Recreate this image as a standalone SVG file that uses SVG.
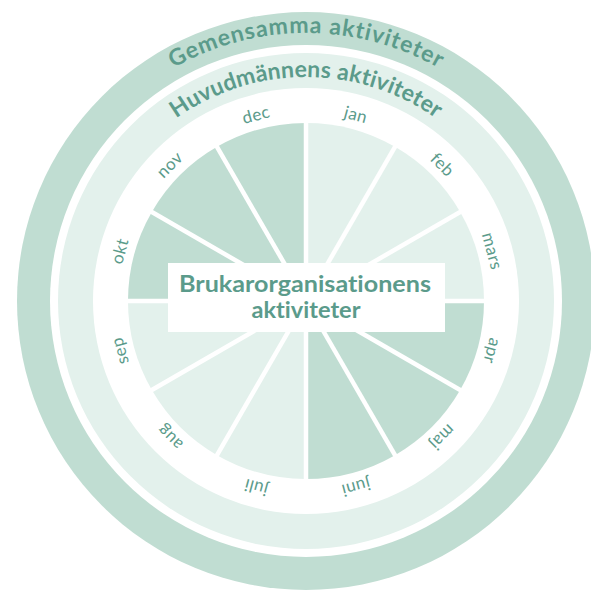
<svg xmlns="http://www.w3.org/2000/svg" width="591" height="590" viewBox="0 0 591 590">
<style>
.dark{fill:#c0ddd2}
.light{fill:#e3f1ec}
.white{fill:#ffffff}
.txt{fill:#5b9b8b;font-family:Lato,"Noto Sans",sans-serif;font-variant-ligatures:none}
.ring{font-size:23px;font-weight:bold}
.month{font-size:17px;letter-spacing:0.5px;text-anchor:middle}
.center{font-size:23px;font-weight:bold;text-anchor:middle}
.spoke{stroke:#ffffff;stroke-width:4.5}
</style>
<defs>
<path id="arcOuter" d="M38,301 A268,268 0 0 1 574,301"/>
<path id="arcInner" d="M82,301 A224,224 0 0 1 530,301"/>
</defs>
<g id="ring-gemensamma">
<circle class="dark" cx="306" cy="301" r="289"/>
<circle class="white" cx="306" cy="301" r="256"/>
<text class="txt ring"><textPath href="#arcOuter" startOffset="50%" text-anchor="middle" textLength="277" lengthAdjust="spacing">Gemensamma aktiviteter</textPath></text>
</g>
<g id="ring-huvudmannen">
<circle class="light" cx="306" cy="301" r="248"/>
<circle class="white" cx="306" cy="301" r="213"/>
<text class="txt ring"><textPath href="#arcInner" startOffset="50%" text-anchor="middle" textLength="277" lengthAdjust="spacing">Huvudmännens aktiviteter</textPath></text>
</g>
<g id="jan"><path class="light" d="M306,301 L306,123 A178,178 0 0 1 395,146.85 Z"/><text class="txt month" transform="rotate(15 306 301)" x="306" y="114">jan</text></g>
<g id="feb"><path class="light" d="M306,301 L395,146.85 A178,178 0 0 1 460.15,212 Z"/><text class="txt month" transform="rotate(45 306 301)" x="306" y="114">feb</text></g>
<g id="mars"><path class="light" d="M306,301 L460.15,212 A178,178 0 0 1 484,301 Z"/><text class="txt month" transform="rotate(75 306 301)" x="306" y="114">mars</text></g>
<g id="apr"><path class="dark" d="M306,301 L484,301 A178,178 0 0 1 460.15,390 Z"/><text class="txt month" transform="rotate(105 306 301)" x="306" y="114">apr</text></g>
<g id="maj"><path class="dark" d="M306,301 L460.15,390 A178,178 0 0 1 395,455.15 Z"/><text class="txt month" transform="rotate(135 306 301)" x="306" y="114">maj</text></g>
<g id="juni"><path class="dark" d="M306,301 L395,455.15 A178,178 0 0 1 306,479 Z"/><text class="txt month" transform="rotate(165 306 301)" x="306" y="114">juni</text></g>
<g id="juli"><path class="light" d="M306,301 L306,479 A178,178 0 0 1 217,455.15 Z"/><text class="txt month" transform="rotate(195 306 301)" x="306" y="114">juli</text></g>
<g id="aug"><path class="light" d="M306,301 L217,455.15 A178,178 0 0 1 151.85,390 Z"/><text class="txt month" transform="rotate(225 306 301)" x="306" y="114">aug</text></g>
<g id="sep"><path class="light" d="M306,301 L151.85,390 A178,178 0 0 1 128,301 Z"/><text class="txt month" transform="rotate(255 306 301)" x="306" y="114">sep</text></g>
<g id="okt"><path class="dark" d="M306,301 L128,301 A178,178 0 0 1 151.85,212 Z"/><text class="txt month" transform="rotate(285 306 301)" x="306" y="114">okt</text></g>
<g id="nov"><path class="dark" d="M306,301 L151.85,212 A178,178 0 0 1 217,146.85 Z"/><text class="txt month" transform="rotate(315 306 301)" x="306" y="114">nov</text></g>
<g id="dec"><path class="dark" d="M306,301 L217,146.85 A178,178 0 0 1 306,123 Z"/><text class="txt month" transform="rotate(345 306 301)" x="306" y="114">dec</text></g>
<g id="connectors">
<line class="spoke" x1="306" y1="301" x2="306" y2="121"/>
<line class="spoke" x1="306" y1="301" x2="396" y2="145.1"/>
<line class="spoke" x1="306" y1="301" x2="461.9" y2="211"/>
<line class="spoke" x1="306" y1="301" x2="486" y2="301"/>
<line class="spoke" x1="306" y1="301" x2="461.9" y2="391"/>
<line class="spoke" x1="306" y1="301" x2="396" y2="456.9"/>
<line class="spoke" x1="306" y1="301" x2="306" y2="481"/>
<line class="spoke" x1="306" y1="301" x2="216" y2="456.9"/>
<line class="spoke" x1="306" y1="301" x2="150.1" y2="391"/>
<line class="spoke" x1="306" y1="301" x2="126" y2="301"/>
<line class="spoke" x1="306" y1="301" x2="150.1" y2="211"/>
<line class="spoke" x1="306" y1="301" x2="216" y2="145.1"/>
</g>
<g id="brukarorganisationen">
<rect class="white" x="168" y="263" width="277" height="69"/>
<text class="txt center" x="305" y="292" textLength="252" lengthAdjust="spacingAndGlyphs">Brukarorganisationens</text>
<text class="txt center" x="306" y="318" textLength="109" lengthAdjust="spacingAndGlyphs">aktiviteter</text>
</g>
</svg>
